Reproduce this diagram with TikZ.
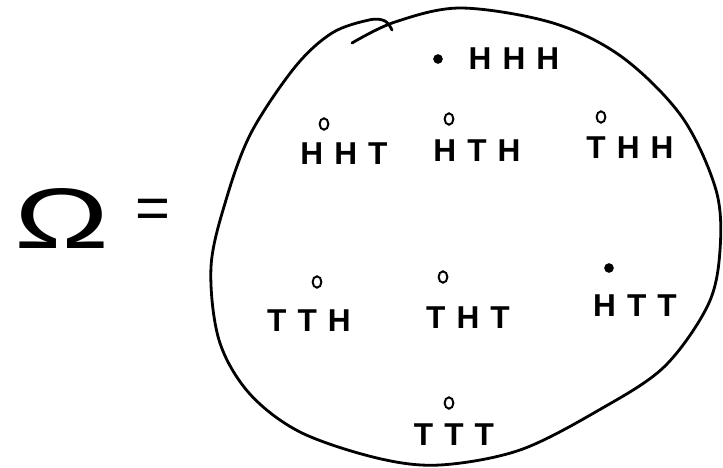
\documentclass[tikz,border=0pt]{standalone}
\usepackage{fontspec}
\usetikzlibrary{positioning,shapes.geometric}
\newfontfamily\handfont[LetterSpace=35]{Liberation Sans}

\begin{document}
\begin{tikzpicture}[
    x=0.02cm, y=-0.02cm,
    outc/.style={
        font=\handfont\bfseries\fontsize{18}{20}\selectfont,
        inner sep=0pt,
        text depth=0pt
    },
    hollowpt/.style={
        ellipse, draw, line width=1.1pt,
        inner sep=0pt, minimum width=5pt, minimum height=6.5pt
    },
    fullpt/.style={
        circle, fill, inner sep=0pt, minimum size=5.5pt
    },
    blob/.style={
        line width=1.6pt,
        line cap=round
    }
]
\useasboundingbox (0,0) rectangle (723,467);

\node[inner sep=0pt] (omega) at (62,218) {\resizebox{1.9cm}{1.2cm}{\handfont Ω}};
\node[inner sep=0pt, right=0.5cm of omega, yshift=0.08cm] (eq) {\fontsize{34}{36}\selectfont\handfont =};

\draw[blob] plot[smooth, tension=0.55] coordinates {
    (352,43) (395,22) (461,8) (553,23) (622,57) (682,117) (716,190)
    (720,250) (708,305) (664,367) (599,410) (520,450)
    (440,465) (377,458) (300,432) (249,393) (219,340) (211,267)
    (226,200) (251,133) (295,67) (332,33) (369,20) (385,21) (392,30)};

\node[outc] (hhh) at (514,59) {HHH};
\node[outc] (hht) at (344,154) {HHT};
\node[outc] (hth) at (477,151) {HTH};
\node[outc] (thh) at (630,148) {THH};
\node[outc] (tth) at (309,321) {TTH};
\node[outc] (tht) at (468,318) {THT};
\node[outc] (htt) at (635,306) {HTT};
\node[outc] (ttt) at (454,435) {TTT};

\node[fullpt] (p-hhh) at (438,59) {};
\node[hollowpt] (p-hht) at (324,124) {};
\node[hollowpt] (p-hth) at (449,119) {};
\node[hollowpt] (p-thh) at (601,117) {};
\node[hollowpt] (p-tth) at (317,282) {};
\node[hollowpt] (p-tht) at (443,277) {};
\node[fullpt] (p-htt) at (609,268) {};
\node[hollowpt] (p-ttt) at (449,403) {};

\end{tikzpicture}
\end{document}
